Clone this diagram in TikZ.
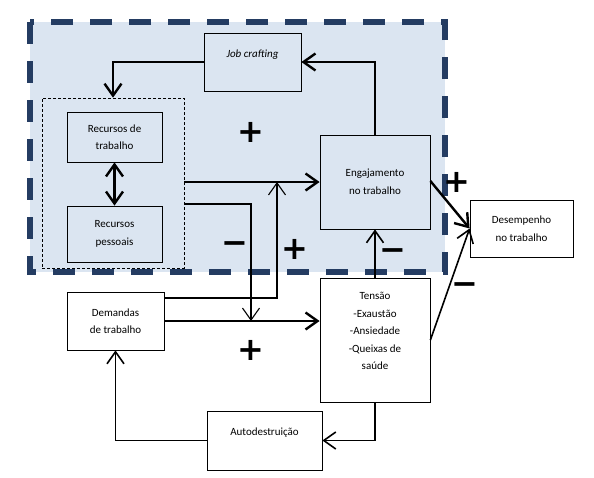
\documentclass[tikz,border=0pt]{standalone}
\usepackage{fontspec}
\setmainfont{Carlito}
\newfontfamily\signfont{DejaVu Sans}
\usetikzlibrary{arrows.meta}
\definecolor{framenavy}{RGB}{36,60,98}
\definecolor{framefill}{RGB}{219,229,241}

\begin{document}
\begin{tikzpicture}[x=1pt,y=-1pt,>={Straight Barb[length=12pt,width=17pt]},line cap=butt,line join=miter,
  box/.style={draw,line width=0.8pt,inner sep=0pt,align=center,font=\fontsize{11}{17.5}\selectfont},
  thickarr/.style={->,line width=2.4pt},
  midarr/.style={->,line width=1.6pt},
  thinarr/.style={->,line width=1.1pt},
  sign/.style={font=\signfont\bfseries\fontsize{32}{32}\selectfont,inner sep=0pt}]
\useasboundingbox (0,0) rectangle (594,477);
% shaded group with dashed border
\fill[framefill] (30,22) rectangle (445,272);
\draw[framenavy,line width=5.5pt,dash pattern=on 22pt off 17pt] (30,22) rectangle (445,272);
\node[draw,densely dashed,line width=0.6pt,minimum width=142pt,minimum height=170pt] (grp) at (113,183) {};
\node[box,minimum width=97pt,minimum height=58pt] (jc) at (252.5,62) {\textit{Job crafting}\\ ~};
\node[box,minimum width=95pt,minimum height=50pt] (rt) at (114.5,137) {Recursos de\\trabalho};
\node[box,minimum width=95pt,minimum height=56pt] (rp) at (114.5,234) {Recursos\\pessoais};
\node[box,minimum width=110pt,minimum height=94pt] (en) at (375,182) {Engajamento\\no trabalho};
\node[box,fill=white,minimum width=110pt,minimum height=124pt] (ts) at (375,340) {Tensão\\-Exaustão\\-Ansiedade\\-Queixas de\\saúde\\ ~};
\node[box,fill=white,minimum width=97pt,minimum height=58pt] (dm) at (115.5,321) {Demandas\\de trabalho};
\node[box,fill=white,minimum width=103pt,minimum height=57pt] (ds) at (521.5,228.5) {Desempenho\\no trabalho};
\node[box,fill=white,minimum width=115pt,minimum height=59pt] (ad) at (264.5,440.5) {Autodestruição\\ ~};
\coordinate (k1) at (251,321);
\coordinate (k2) at (277,182);
% connectors
\draw[thickarr] (jc.west) -| (grp.north);
\draw[thickarr] (en.north) |- (jc.east);
\draw[<->,line width=2.4pt] (rt.south) -- (rp.north);
\draw[thickarr] (grp.east |- en.west) -- (en.west);
\draw[thinarr] ([yshift=-21pt]grp.east) -| (k1);
\draw[thinarr] ([yshift=23pt]dm.east) -| (k2);
\draw[thickarr] (dm.east) -- (dm.east -| ts.west);
\draw[midarr] (ts.north) -- (en.south);
\draw[thickarr] ([yshift=1pt]en.east) -- (ds.west);
\draw[midarr] (ts.east) -- (ds.west);
\draw[midarr] (ts.south) |- (ad.east);
\draw[midarr] (ad.west) -| (dm.south);
% signs
\node[sign] (s1) at (251,132) {+};
\node[sign] (s2) at (235,248) {−};
\node[sign] (s3) at (295,249) {+};
\node[sign] (s4) at (457,182) {+};
\node[sign] (s5) at (393,255) {−};
\node[sign] (s6) at (465,289) {−};
\node[sign] (s7) at (251,350) {+};
\end{tikzpicture}
\end{document}
